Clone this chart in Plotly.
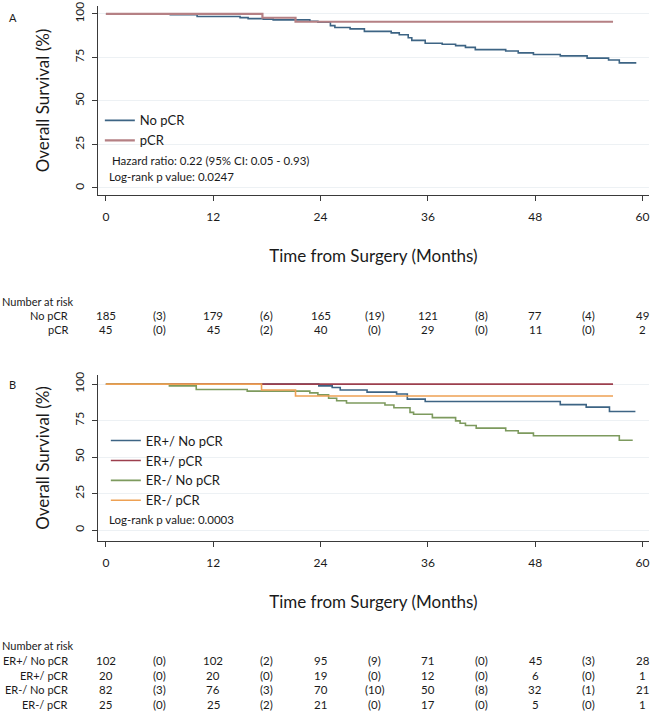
import plotly.graph_objects as go

# ---------------- data ----------------
months_ticks = [0, 12, 24, 36, 48, 60]
risk_cols = [0, 6, 12, 18, 24, 30, 36, 42, 48, 54, 60]

# Panel A
a_names = ["No pCR", "pCR"]
a_nopcr_t = [0, 7.2, 10.2, 15.0, 15.9, 17.6, 18.7, 22.8, 23.7, 25.1, 25.6, 27.3, 28.9, 31.9, 32.8,
             33.8, 34.2, 35.7, 37.6, 39.1, 40.2, 41.3, 44.7, 46.1, 47.8, 50.8, 53.8, 56.2, 57.4, 59.3]
a_nopcr_s = [100, 99.5, 98.5, 97.9, 97.3, 97.0, 96.6, 95.8, 95.3, 93.3, 92.2, 91.4, 90.0, 89.1, 88.0,
             86.3, 84.8, 83.2, 82.6, 81.8, 80.8, 79.5, 78.7, 77.6, 76.7, 75.9, 74.6, 73.5, 71.9, 71.9]
a_pcr_t = [0, 17.5, 21.2, 56.7]
a_pcr_s = [100, 97.8, 95.5, 95.5]
a_risk_n = [[185, 179, 165, 121, 77, 49], [45, 45, 40, 29, 11, 2]]
a_risk_ev = [[3, 6, 19, 8, 4], [0, 2, 0, 0, 0]]
a_hr_text = "Hazard ratio: 0.22 (95% CI: 0.05 - 0.93)"
a_p_text = "Log-rank p value: 0.0247"

# Panel B
b_names = ["ER+/ No pCR", "ER+/ pCR", "ER-/ No pCR", "ER-/ pCR"]
b_t = [
    [0, 23.8, 25.3, 26.2, 29.2, 32.5, 33.7, 35.7, 50.8, 53.7, 56.3, 59.2],
    [0, 56.7],
    [0, 7.1, 10.1, 15.8, 22.8, 23.7, 24.9, 25.8, 26.9, 31.2, 32.2, 34.0, 34.4, 36.5, 39.1, 39.6,
     40.2, 41.4, 44.7, 46.1, 47.8, 57.4, 58.9],
    [0, 17.4, 21.2, 56.7],
]
b_s = [
    [100, 98.8, 97.7, 96.0, 94.5, 93.2, 89.7, 88.1, 85.9, 84.2, 81.2, 81.2],
    [100, 100],
    [100, 98.8, 96.3, 95.2, 94.0, 92.6, 90.3, 88.6, 87.0, 85.7, 83.8, 80.6, 79.3, 77.0, 74.8, 73.2,
     71.6, 69.8, 68.0, 66.4, 64.6, 61.5, 61.5],
    [100, 96.0, 91.8, 91.8],
]
b_risk_n = [[102, 102, 95, 71, 45, 28], [20, 20, 19, 12, 6, 1],
            [82, 76, 70, 50, 32, 21], [25, 25, 21, 17, 5, 1]]
b_risk_ev = [[0, 2, 9, 0, 3], [0, 0, 0, 0, 0], [3, 3, 10, 8, 1], [0, 2, 0, 0, 0]]
b_p_text = "Log-rank p value: 0.0003"

# ---------------- style ----------------
W, H = 650, 712
FONT = "Lato"
TXT = "#1a1a1a"
a_colors = ["#3d6484", "#b58084"]
b_colors = ["#3d6484", "#9c3f4e", "#7d9a5e", "#eea154"]


def py(p):
    return 1 - p / H


def px(p):
    return p / W


fig = go.Figure()

fig.add_trace(go.Scatter(x=a_nopcr_t, y=a_nopcr_s, mode="lines", line=dict(shape="hv", color=a_colors[0], width=1.6),
                         name=a_names[0], xaxis="x", yaxis="y", legend="legend"))
fig.add_trace(go.Scatter(x=a_pcr_t, y=a_pcr_s, mode="lines", line=dict(shape="hv", color=a_colors[1], width=2.2),
                         name=a_names[1], xaxis="x", yaxis="y", legend="legend"))
for i in range(4):
    fig.add_trace(go.Scatter(x=b_t[i], y=b_s[i], mode="lines", line=dict(shape="hv", color=b_colors[i], width=1.6),
                             name=b_names[i], xaxis="x2", yaxis="y2", legend="legend2"))

xr = [-0.9, 60.72]
axis_common = dict(showline=True, linecolor="#3a3a3a", linewidth=1.4, ticks="outside", ticklen=5,
                   tickcolor="#3a3a3a", tickfont=dict(family=FONT, size=12, color=TXT), zeroline=False,
                   ticklabeloverflow="allow")
xcommon = dict(axis_common, range=xr, tickvals=months_ticks, showgrid=False, ticklabelstandoff=5,
               domain=[px(98), 1.0],
               title=dict(text="Time from Surgery (Months)", font=dict(family=FONT, size=17, color=TXT), standoff=27))
ycommon = dict(axis_common, tickmode="array", tickvals=[0, 25, 50, 75, 100], tickangle=270, showgrid=True,
               gridcolor="#edf1f4", gridwidth=1, ticklabelstandoff=3,
               title=dict(text="Overall Survival (%)", font=dict(family=FONT, size=17, color=TXT), standoff=17))

fig.update_layout(
    width=W, height=H, margin=dict(l=0, r=0, t=0, b=0),
    paper_bgcolor="white", plot_bgcolor="white",
    font=dict(family=FONT, size=12, color=TXT),
    xaxis=dict(xcommon, anchor="y"),
    yaxis=dict(ycommon, anchor="x", range=[-4, 104.57], domain=[py(192), py(2)]),
    xaxis2=dict(xcommon, anchor="y2"),
    yaxis2=dict(ycommon, anchor="x2", range=[-7.5, 106.3], domain=[py(540), py(373)]),
    legend=dict(x=px(100), y=py(102), xanchor="left", yanchor="top", bgcolor="rgba(0,0,0,0)",
                font=dict(family=FONT, size=13, color=TXT), tracegroupgap=0),
    legend2=dict(x=px(106), y=py(424), xanchor="left", yanchor="top", bgcolor="rgba(0,0,0,0)",
                 font=dict(family=FONT, size=13, color=TXT), tracegroupgap=0),
    showlegend=True,
)

ann = []
ann.append(dict(text="A", x=px(7), y=py(14), xref="paper", yref="paper", xanchor="left", yanchor="middle",
                showarrow=False, font=dict(size=11)))
ann.append(dict(text="B", x=px(7), y=py(383), xref="paper", yref="paper", xanchor="left", yanchor="middle",
                showarrow=False, font=dict(size=11)))
ann.append(dict(text=a_hr_text, x=px(110), y=py(157), xref="paper", yref="paper", xanchor="left", yanchor="middle",
                showarrow=False, font=dict(size=11.5)))
ann.append(dict(text=a_p_text, x=px(107), y=py(173), xref="paper", yref="paper", xanchor="left", yanchor="middle",
                showarrow=False, font=dict(size=11.5)))
ann.append(dict(text=b_p_text, x=px(107), y=py(518), xref="paper", yref="paper", xanchor="left", yanchor="middle",
                showarrow=False, font=dict(size=11.5)))


def risk_table(names, ns, evs, xref, y_head, y0, dy):
    out = [dict(text="Number at risk", x=0, y=py(y_head), xref="paper", yref="paper", xanchor="left",
                yanchor="middle", showarrow=False, font=dict(size=11))]
    for r, name in enumerate(names):
        yy = py(y0 + r * dy)
        out.append(dict(text=name, x=px(70), y=yy, xref="paper", yref="paper", xanchor="right",
                        yanchor="middle", showarrow=False, font=dict(size=11)))
        vals = []
        for k in range(len(ns[r])):
            vals.append(str(ns[r][k]))
            if k < len(evs[r]):
                vals.append("(%d)" % evs[r][k])
        for xc, v in zip(risk_cols, vals):
            out.append(dict(text=v, x=xc, y=yy, xref=xref, yref="paper", xanchor="center", yanchor="middle",
                            showarrow=False, font=dict(size=11.5)))
    return out


ann += risk_table(a_names, a_risk_n, a_risk_ev, "x", 299, 313, 14)
ann += risk_table(b_names, b_risk_n, b_risk_ev, "x2", 645, 660, 14.8)
fig.update_layout(annotations=ann)

fig.write_html("out.html", config={"displayModeBar": False},
               post_script="document.body.style.margin='0px';document.body.style.overflow='hidden';")
